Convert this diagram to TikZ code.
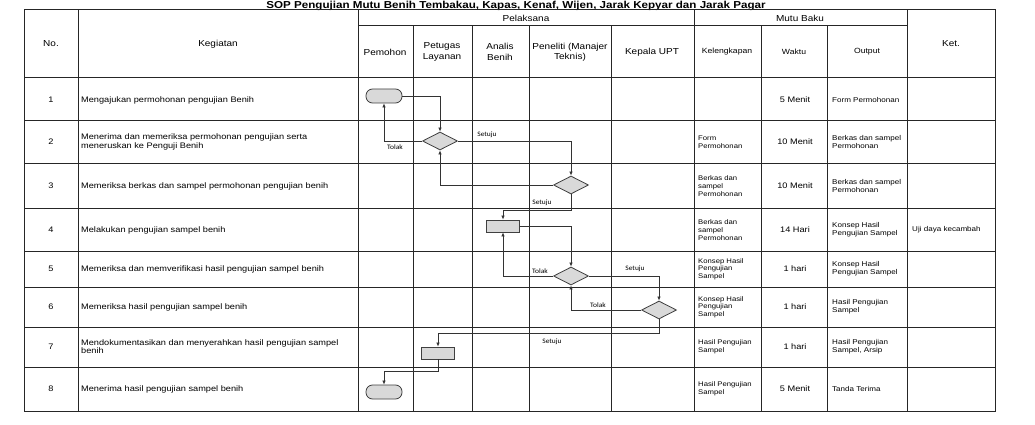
\documentclass[tikz,border=0pt]{standalone}
\usepackage{fontspec}
\setmainfont{Liberation Sans}[FakeStretch=1.15]
\newfontfamily\lblfont{Carlito}[FakeStretch=1.1]
\usetikzlibrary{shapes.geometric,arrows.meta}

\begin{document}
\begin{tikzpicture}[x=1pt,y=-1pt,
  tabline/.style={draw=black!85,line width=1pt},
  hd/.style={font=\fontsize{8.7}{10.5}\selectfont,align=center,inner sep=0pt},
  sub/.style={font=\fontsize{7.5}{9}\selectfont,align=center,inner sep=0pt},
  num/.style={font=\fontsize{8}{9}\selectfont,inner sep=0pt},
  keg/.style={font=\fontsize{8}{8.2}\selectfont,align=left,anchor=west,inner sep=0pt},
  kel/.style={font=\fontsize{6.7}{7.7}\selectfont,align=left,anchor=west,inner sep=0pt},
  wkt/.style={font=\fontsize{8}{9}\selectfont,inner sep=0pt},
  outcell/.style={font=\fontsize{7}{8}\selectfont,align=left,anchor=west,inner sep=0pt},
  lbl/.style={font=\lblfont\fontsize{6.8}{7}\selectfont,inner sep=0pt},
  term/.style={draw=black!75,fill=black!15,rounded corners=6.5pt,minimum width=36pt,minimum height=14pt,inner sep=0pt,line width=0.8pt},
  proc/.style={draw=black!75,fill=black!15,minimum width=33pt,minimum height=12pt,inner sep=0pt,line width=0.8pt},
  dec/.style={draw=black!75,fill=black!15,diamond,minimum width=35pt,minimum height=18pt,inner sep=0pt,line width=0.8pt},
  flow/.style={draw=black!80,line width=0.7pt,-{Latex[length=4pt,width=3.5pt]}}]
\fill[white] (0,0) rectangle (1035,425);
\useasboundingbox (0,0) rectangle (1035,425);
\node[font=\bfseries\fontsize{10.1}{11}\selectfont,anchor=base,inner sep=0pt] (title) at (516,9) {SOP Pengujian Mutu Benih Tembakau, Kapas, Kenaf, Wijen, Jarak Kepyar dan Jarak Pagar};
% table
\draw[tabline] (24,10) rectangle (995,411);
\draw[tabline] (358,26) -- (907,26);
\draw[tabline] (24,78) -- (995,78);
\draw[tabline] (24,121) -- (995,121);
\draw[tabline] (24,163) -- (995,163);
\draw[tabline] (24,208) -- (995,208);
\draw[tabline] (24,251) -- (995,251);
\draw[tabline] (24,287) -- (995,287);
\draw[tabline] (24,327) -- (995,327);
\draw[tabline] (24,367) -- (995,367);
\draw[tabline] (78,10) -- (78,411);
\draw[tabline] (358,10) -- (358,411);
\draw[tabline] (694,10) -- (694,411);
\draw[tabline] (907,10) -- (907,411);
\draw[tabline] (413,26) -- (413,411);
\draw[tabline] (472,26) -- (472,411);
\draw[tabline] (529,26) -- (529,411);
\draw[tabline] (611,26) -- (611,411);
\draw[tabline] (761,26) -- (761,411);
\draw[tabline] (827,26) -- (827,411);
% header
\node[hd] (hno) at (51,44) {No.};
\node[hd] (hkeg) at (218,44) {Kegiatan};
\node[hd] (hpel) at (526,18) {Pelaksana};
\node[hd] (hmutu) at (800,18) {Mutu Baku};
\node[hd] (hket) at (951,44) {Ket.};
\node[hd] (hpem) at (385,52) {Pemohon};
\node[hd] (hpet) at (442,52) {Petugas\\Layanan};
\node[hd] (hana) at (500,52) {Analis\\Benih};
\node[hd] (hpen) at (570,52) {Peneliti (Manajer\\Teknis)};
\node[hd] (hkep) at (652,52) {Kepala UPT};
\node[sub] (hkel) at (727,52) {Kelengkapan};
\node[sub] (hwkt) at (794,52) {Waktu};
\node[sub] (hout) at (867,52) {Output};
% rows
\node[num] (no1) at (51,100) {1};
\node[keg] (keg1) at (81,100) {Mengajukan permohonan pengujian Benih};
\node[wkt] (wkt1) at (795,100) {5 Menit};
\node[outcell] (out1) at (832,100) {Form Permohonan};
\node[num] (no2) at (51,142) {2};
\node[keg] (keg2) at (81,142) {Menerima dan memeriksa permohonan pengujian serta\\meneruskan ke Penguji Benih};
\node[kel] (kel2) at (698,142) {Form\\Permohonan};
\node[wkt] (wkt2) at (795,142) {10 Menit};
\node[outcell] (out2) at (832,142) {Berkas dan sampel\\Permohonan};
\node[num] (no3) at (51,186) {3};
\node[keg] (keg3) at (81,186) {Memeriksa berkas dan sampel permohonan pengujian benih};
\node[kel] (kel3) at (698,186) {Berkas dan\\sampel\\Permohonan};
\node[wkt] (wkt3) at (795,186) {10 Menit};
\node[outcell] (out3) at (832,186) {Berkas dan sampel\\Permohonan};
\node[num] (no4) at (51,230) {4};
\node[keg] (keg4) at (81,230) {Melakukan pengujian sampel benih};
\node[kel] (kel4) at (698,230) {Berkas dan\\sampel\\Permohonan};
\node[wkt] (wkt4) at (795,230) {14 Hari};
\node[outcell] (out4) at (832,230) {Konsep Hasil\\Pengujian Sampel};
\node[outcell] (ket4) at (912,230) {Uji daya kecambah};
\node[num] (no5) at (51,269) {5};
\node[keg] (keg5) at (81,269) {Memeriksa dan memverifikasi hasil pengujian sampel benih};
\node[kel] (kel5) at (698,269) {Konsep Hasil\\Pengujian\\Sampel};
\node[wkt] (wkt5) at (795,269) {1 hari};
\node[outcell] (out5) at (832,269) {Konsep Hasil\\Pengujian Sampel};
\node[num] (no6) at (51,307) {6};
\node[keg] (keg6) at (81,307) {Memeriksa hasil pengujian sampel benih};
\node[kel] (kel6) at (698,307) {Konsep Hasil\\Pengujian\\Sampel};
\node[wkt] (wkt6) at (795,307) {1 hari};
\node[outcell] (out6) at (832,307) {Hasil Pengujian\\Sampel};
\node[num] (no7) at (51,347) {7};
\node[keg] (keg7) at (81,347) {Mendokumentasikan dan menyerahkan hasil pengujian sampel\\benih};
\node[kel] (kel7) at (698,347) {Hasil Pengujian\\Sampel};
\node[wkt] (wkt7) at (795,347) {1 hari};
\node[outcell] (out7) at (832,347) {Hasil Pengujian\\Sampel, Arsip};
\node[num] (no8) at (51,389) {8};
\node[keg] (keg8) at (81,389) {Menerima hasil pengujian sampel benih};
\node[kel] (kel8) at (698,389) {Hasil Pengujian\\Sampel};
\node[wkt] (wkt8) at (795,389) {5 Menit};
\node[outcell] (out8) at (832,389) {Tanda Terima};
% flow
\node[term] (t1) at (384,96) {};
\node[dec] (d1) at (440,141) {};
\node[dec] (d2) at (571,185) {};
\node[proc] (b4) at (503,226) {};
\node[dec] (d3) at (571,276) {};
\node[dec] (d4) at (659,310) {};
\node[proc] (b7) at (438,353) {};
\node[term] (t8) at (384,392) {};
\draw[flow] (t1.east) -| (d1.north);
\draw[flow] (d1.west) -| (t1.south);
\draw[flow] (d1.east) -| (d2.north);
\draw[flow] (d2.west) -| (d1.south);
\draw[flow] (d2.south) -- ++(0,16) -| (b4.north);
\draw[flow] (b4.east) -| (d3.north);
\draw[flow] (d3.west) -| (b4.south);
\draw[flow] (d3.east) -| (d4.north);
\draw[flow] (d4.west) -| (d3.south);
\draw[flow] (d4.south) -- ++(0,14) -| (b7.north);
\draw[flow] (b7.south) -- ++(0,12) -| (t8.north);
\node[lbl] (tolak1) at (395,147) {Tolak};
\node[lbl] (setuju1) at (487,135) {Setuju};
\node[lbl] (setuju2) at (542,203) {Setuju};
\node[lbl] (tolak3) at (540,271) {Tolak};
\node[lbl] (setuju3) at (635,269) {Setuju};
\node[lbl] (tolak4) at (598,305) {Tolak};
\node[lbl] (setuju4) at (552,342) {Setuju};
\end{tikzpicture}
\end{document}
